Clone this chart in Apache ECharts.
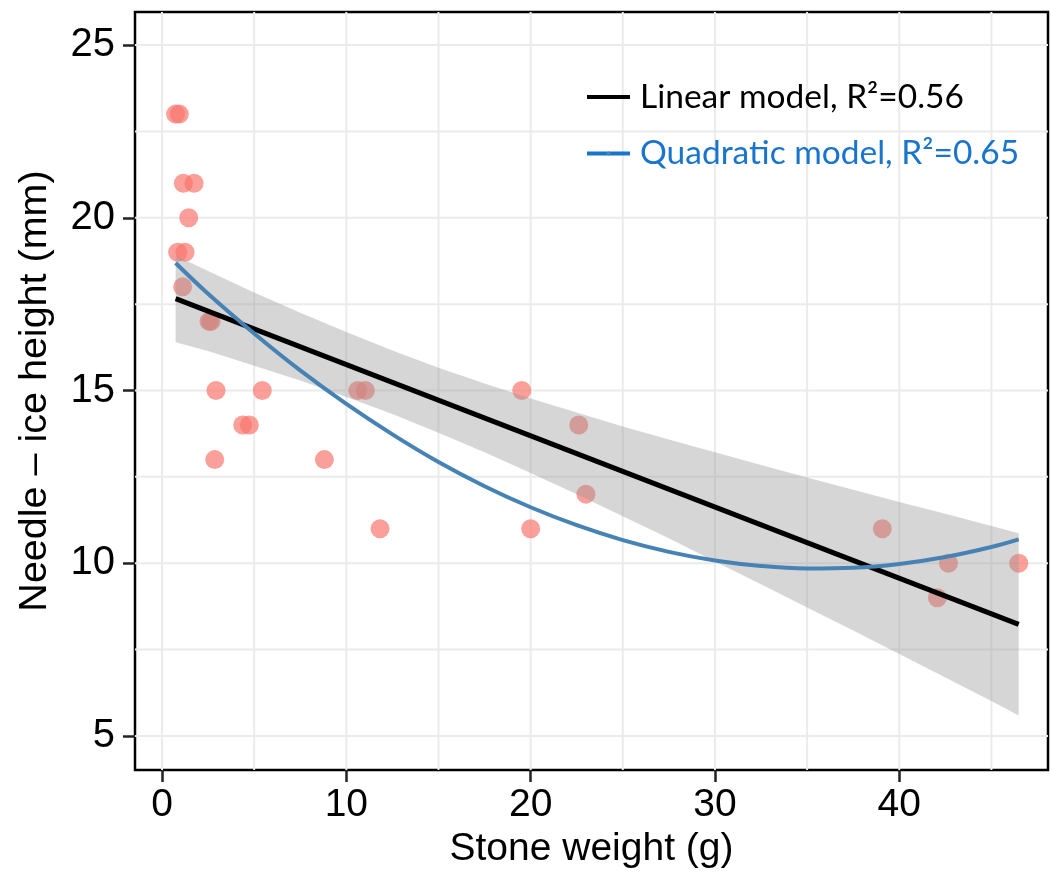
<!DOCTYPE html>
<html>
<head>
<meta charset="utf-8">
<script src="https://cdn.jsdelivr.net/npm/echarts@6/dist/echarts.min.js"></script>
<style>
  html, body { margin: 0; padding: 0; background: #fff; }
  #chart { width: 1051px; height: 882px; }
</style>
</head>
<body>
<div id="chart"></div>
<script>
// Observations: stone weight (g) and needle-ice height (mm)
const stoneWeight = [0.74, 0.94, 1.16, 1.74, 1.45, 0.85, 1.25, 1.12, 2.55, 2.66,
                     2.93, 5.44, 10.62, 11.03, 4.38, 4.74, 2.86, 8.81, 11.83, 20.0,
                     19.52, 22.61, 23.0, 39.08, 42.67, 42.07, 46.48];
const iceHeight   = [23, 23, 21, 21, 20, 19, 19, 18, 17, 17,
                     15, 15, 15, 15, 14, 14, 13, 13, 11, 11,
                     15, 14, 12, 11, 10, 9, 10];

// Linear model fit (endpoints over the data range)
const linearX = [0.74, 46.48];
const linearY = [17.66, 8.23];

// Quadratic model fit, sampled along the range
const fitX      = [0.74, 2.5, 5, 7.5, 10, 12.5, 15, 17.5, 20, 22.5, 25, 27.5, 30, 32.5, 35, 37.5, 40, 42.5, 45, 46.48];
const quadY     = [18.69, 17.80, 16.65, 15.58, 14.61, 13.73, 12.93, 12.23, 11.62, 11.10, 10.67, 10.33, 10.08, 9.92, 9.85, 9.87, 9.98, 10.18, 10.47, 10.69];
// 95% confidence band of the linear model
const bandLower = [16.40, 16.14, 15.72, 15.29, 14.81, 14.32, 13.78, 13.21, 12.61, 12.00, 11.36, 10.72, 10.05, 9.39, 8.72, 8.05, 7.37, 6.69, 6.01, 5.59];
const bandUpper = [18.90, 18.46, 17.84, 17.25, 16.69, 16.16, 15.66, 15.20, 14.77, 14.36, 13.96, 13.58, 13.21, 12.84, 12.48, 12.13, 11.77, 11.43, 11.08, 10.87];

// Axis ticks and grid lines
const xTicks = [0, 10, 20, 30, 40];
const yTicks = [5, 10, 15, 20, 25];
const xGrid  = [0, 5, 10, 15, 20, 25, 30, 35, 40, 45];
const yGrid  = [5, 7.5, 10, 12.5, 15, 17.5, 20, 22.5, 25];

const linearName = 'Linear model, R²=0.56';
const quadName   = 'Quadratic model, R²=0.65';

const X_MIN = -1.465, X_MAX = 48.07, Y_MIN = 4.015, Y_MAX = 25.956;

const zip = (a, b) => a.map((v, i) => [v, b[i]]);

const chart = echarts.init(document.getElementById('chart'), null, { renderer: 'canvas' });

const sans = 'Liberation Sans, Arial, sans-serif';

// grid line items: [0, x] vertical, [1, y] horizontal
const gridItems = xGrid.map(v => [0, v]).concat(yGrid.map(v => [1, v]));

const option = {
  animation: false,
  backgroundColor: '#fff',
  grid: {
    left: 135, right: 3, top: 12, bottom: 112,
    show: true, borderColor: '#000', borderWidth: 2.5, backgroundColor: 'transparent'
  },
  xAxis: {
    type: 'value', min: X_MIN, max: X_MAX,
    name: 'Stone weight (g)', nameLocation: 'middle', nameGap: 60,
    nameTextStyle: { fontFamily: sans, fontSize: 39, color: '#000' },
    axisLine: { show: false, onZero: false },
    axisTick: { show: true, customValues: xTicks, length: 12, lineStyle: { color: '#222', width: 2.5 } },
    axisLabel: { customValues: xTicks, fontSize: 39, margin: 16, fontFamily: sans, color: '#000' },
    splitLine: { show: false }
  },
  yAxis: {
    type: 'value', min: Y_MIN, max: Y_MAX,
    name: 'Needle – ice height (mm)', nameLocation: 'middle', nameGap: 80,
    nameTextStyle: { fontFamily: sans, fontSize: 39.5, color: '#000' },
    axisLine: { show: false, onZero: false },
    axisTick: { show: true, customValues: yTicks, length: 12, lineStyle: { color: '#222', width: 2.5 } },
    axisLabel: { customValues: yTicks, fontSize: 40, margin: 20, fontFamily: sans, color: '#000' },
    splitLine: { show: false }
  },
  legend: {
    orient: 'vertical', left: 580, top: 75, itemGap: 22.5, z: 10,
    itemWidth: 43, itemHeight: 5,
    textStyle: { fontFamily: 'Lato, sans-serif', fontSize: 33.5, padding: [0, 0, 0, 5] },
    data: [
      { name: linearName, lineStyle: { color: '#000', width: 4 }, textStyle: { color: '#000' } },
      { name: quadName, lineStyle: { color: '#1874CD', width: 4 }, textStyle: { color: '#1874CD' } }
    ]
  },
  series: [
    {
      // panel grid lines
      type: 'custom', z: 1, silent: true,
      data: gridItems,
      renderItem: function (params, api) {
        const dir = api.value(0), v = api.value(1);
        const a = dir === 0 ? api.coord([v, Y_MIN]) : api.coord([X_MIN, v]);
        const b = dir === 0 ? api.coord([v, Y_MAX]) : api.coord([X_MAX, v]);
        return {
          type: 'line',
          shape: { x1: a[0], y1: a[1], x2: b[0], y2: b[1] },
          style: { stroke: '#ebebeb', lineWidth: 2 }
        };
      }
    },
    {
      type: 'scatter', z: 2, silent: true,
      data: zip(stoneWeight, iceHeight),
      symbol: 'circle', symbolSize: 19,
      itemStyle: { color: '#F8766D', opacity: 0.7 }
    },
    {
      // confidence band as a filled polygon
      type: 'custom', z: 3, silent: true,
      data: [0],
      renderItem: function (params, api) {
        const pts = [];
        for (let i = 0; i < fitX.length; i++) pts.push(api.coord([fitX[i], bandUpper[i]]));
        for (let i = fitX.length - 1; i >= 0; i--) pts.push(api.coord([fitX[i], bandLower[i]]));
        return {
          type: 'polygon',
          shape: { points: pts },
          style: { fill: 'rgba(153,153,153,0.4)' }
        };
      }
    },
    {
      name: linearName, type: 'line', z: 4, silent: true,
      data: zip(linearX, linearY),
      symbol: 'none',
      lineStyle: { color: '#000', width: 5 },
      itemStyle: { color: '#000' }
    },
    {
      name: quadName, type: 'line', z: 5, silent: true,
      data: zip(fitX, quadY),
      symbol: 'none', smooth: 0.4,
      lineStyle: { color: '#4682B4', width: 4 },
      itemStyle: { color: '#4682B4' }
    }
  ]
};

chart.setOption(option);
</script>
</body>
</html>
